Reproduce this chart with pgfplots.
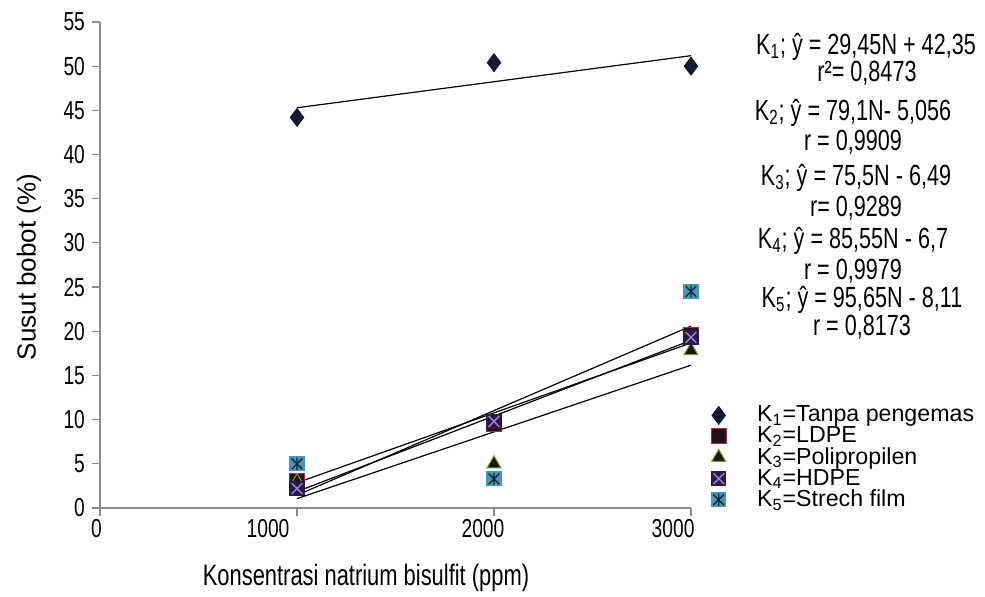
\documentclass[border=0pt]{standalone}
\usepackage{fontspec}
\setmainfont{Liberation Sans}
\newfontfamily\condfont[FakeStretch=0.74]{Liberation Sans}
\usepackage{pgfplots}
\pgfplotsset{compat=1.18}
\definecolor{kone}{HTML}{0D1A33}
\definecolor{ktwo}{HTML}{2B0D18}
\definecolor{ktwoedge}{HTML}{A03050}
\definecolor{kthree}{HTML}{101A08}
\definecolor{kthreeedge}{HTML}{7A9A30}
\definecolor{kfour}{HTML}{2A1A48}
\definecolor{kfourx}{HTML}{9A80D0}
\definecolor{kfive}{HTML}{4A95B5}
\definecolor{kfivex}{HTML}{10283A}
\definecolor{axgray}{HTML}{8C8C8C}
\pgfdeclareplotmark{sqxfour}{%
  \begin{pgfscope}
  \pgfsetfillcolor{kfour}\pgfsetstrokecolor{kfour}
  \pgfpathrectangle{\pgfpoint{-\pgfplotmarksize}{-\pgfplotmarksize}}{\pgfpoint{2\pgfplotmarksize}{2\pgfplotmarksize}}
  \pgfusepath{fill}
  \pgfsetstrokecolor{kfourx}\pgfsetlinewidth{0.7pt}
  \pgfpathmoveto{\pgfpoint{-0.7\pgfplotmarksize}{-0.7\pgfplotmarksize}}
  \pgfpathlineto{\pgfpoint{0.7\pgfplotmarksize}{0.7\pgfplotmarksize}}
  \pgfpathmoveto{\pgfpoint{-0.7\pgfplotmarksize}{0.7\pgfplotmarksize}}
  \pgfpathlineto{\pgfpoint{0.7\pgfplotmarksize}{-0.7\pgfplotmarksize}}
  \pgfusepath{stroke}
  \end{pgfscope}}
\pgfdeclareplotmark{sqstarfive}{%
  \begin{pgfscope}
  \pgfsetfillcolor{kfive}\pgfsetstrokecolor{kfive}
  \pgfpathrectangle{\pgfpoint{-\pgfplotmarksize}{-\pgfplotmarksize}}{\pgfpoint{2\pgfplotmarksize}{2\pgfplotmarksize}}
  \pgfusepath{fill}
  \pgfsetstrokecolor{kfivex}\pgfsetlinewidth{0.7pt}
  \pgfpathmoveto{\pgfpoint{-0.7\pgfplotmarksize}{-0.7\pgfplotmarksize}}
  \pgfpathlineto{\pgfpoint{0.7\pgfplotmarksize}{0.7\pgfplotmarksize}}
  \pgfpathmoveto{\pgfpoint{-0.7\pgfplotmarksize}{0.7\pgfplotmarksize}}
  \pgfpathlineto{\pgfpoint{0.7\pgfplotmarksize}{-0.7\pgfplotmarksize}}
  \pgfpathmoveto{\pgfpoint{0pt}{-0.8\pgfplotmarksize}}
  \pgfpathlineto{\pgfpoint{0pt}{0.8\pgfplotmarksize}}
  \pgfusepath{stroke}
  \end{pgfscope}}
\begin{document}
\begin{tikzpicture}[x=1pt,y=1pt]
\path[use as bounding box] (0,0) rectangle (492.5,298.5);
\begin{axis}[
  at={(50pt,44.5pt)}, anchor=south west,
  scale only axis, width=295.5pt, height=243pt,
  xmin=0, xmax=3000, ymin=0, ymax=55,
  axis x line*=bottom, axis y line*=left,
  axis line style={axgray, line width=0.6pt},
  xtick={0,1000,2000,3000}, xticklabels={},
  ytick={0,5,...,55},
  tick align=outside, major tick length=4pt,
  tick style={axgray, line width=0.6pt},
  /pgf/number format/assume math mode=true,
  yticklabel style={font=\condfont\fontsize{13}{14}\selectfont, text=black},
  clip=false,
  legend style={at={(axis description cs:1.032,0.219)}, anchor=north west,
    draw=none, fill=none, font=\fontsize{11.6}{12}\selectfont,
    row sep=-3.1pt, inner sep=0pt},
  legend cell align=left,
  legend image code/.code={\draw[#1] plot coordinates {(0pt,0pt)}; \path (-4pt,0pt) (17pt,0pt);},
]
% trendlines
\addplot[black, line width=0.6pt, forget plot] coordinates {(1000,45.295) (3000,51.185)};
\addplot[black, line width=0.6pt, forget plot] coordinates {(1000,2.854) (3000,18.674)};
\addplot[black, line width=0.6pt, forget plot] coordinates {(1000,1.06) (3000,16.16)};
\addplot[black, line width=0.6pt, forget plot] coordinates {(1000,1.855) (3000,18.965)};
\addplot[black, line width=0.6pt, forget plot] coordinates {(1000,1.455) (3000,20.585)};
% data
\addplot[only marks, mark=diamond*, mark size=4.5pt, mark options={fill=kone, draw=kone}]
  coordinates {(1000,44.2) (2000,50.4) (3000,50.0)};
\addlegendentry{K\textsubscript{1}=Tanpa pengemas}
\addplot[only marks, mark=square*, mark size=3.8pt, mark options={fill=ktwo, draw=ktwoedge, line width=0.5pt}]
  coordinates {(1000,3.0) (2000,9.5) (3000,19.6)};
\addlegendentry{K\textsubscript{2}=LDPE}
\addplot[only marks, mark=triangle*, mark size=4pt, mark options={fill=kthree, draw=kthreeedge, line width=0.5pt}]
  coordinates {(1000,3.0) (2000,5.0) (3000,17.8)};
\addlegendentry{K\textsubscript{3}=Polipropilen}
\addplot[only marks, mark=sqxfour, mark size=3.8pt]
  coordinates {(1000,2.2) (2000,9.8) (3000,19.3)};
\addlegendentry{K\textsubscript{4}=HDPE}
\addplot[only marks, mark=sqstarfive, mark size=3.8pt]
  coordinates {(1000,5.0) (2000,3.3) (3000,24.5)};
\addlegendentry{K\textsubscript{5}=Strech film}
% x tick labels (offset as in the reference)
\node[font=\condfont\fontsize{13}{14}\selectfont] at (axis cs:-18,0) [yshift=-10.5pt] {0};
\node[font=\condfont\fontsize{13}{14}\selectfont] at (axis cs:853,0) [yshift=-10.5pt] {1000};
\node[font=\condfont\fontsize{13}{14}\selectfont] at (axis cs:1944,0) [yshift=-10.5pt] {2000};
\node[font=\condfont\fontsize{13}{14}\selectfont] at (axis cs:2909,0) [yshift=-10.5pt] {3000};
\end{axis}
% axis titles
\node[font=\condfont\fontsize{14.8}{16}\selectfont] at (183,9.5) {Konsentrasi natrium bisulfit (ppm)};
\node[font=\fontsize{13}{14}\selectfont, rotate=90] at (14.5,165) {Susut bobot (\%)};
% regression annotations
\begin{scope}[every node/.style={font=\condfont\fontsize{14.6}{16}\selectfont, inner sep=0pt}]
\node at (433,275) {K\textsubscript{1}; ŷ = 29,45N + 42,35};
\node at (433.5,262) {r²= 0,8473};
\node at (426.5,242) {K\textsubscript{2}; ŷ = 79,1N- 5,056};
\node at (426.5,227.5) {r = 0,9909};
\node at (428,209.5) {K\textsubscript{3}; ŷ = 75,5N - 6,49};
\node at (428,194.5) {r= 0,9289};
\node at (426.5,178) {K\textsubscript{4}; ŷ = 85,55N - 6,7};
\node at (426.5,163) {r = 0,9979};
\node at (431,148.5) {K\textsubscript{5}; ŷ = 95,65N - 8,11};
\node at (431,135) {r = 0,8173};
\end{scope}
\end{tikzpicture}
\end{document}
